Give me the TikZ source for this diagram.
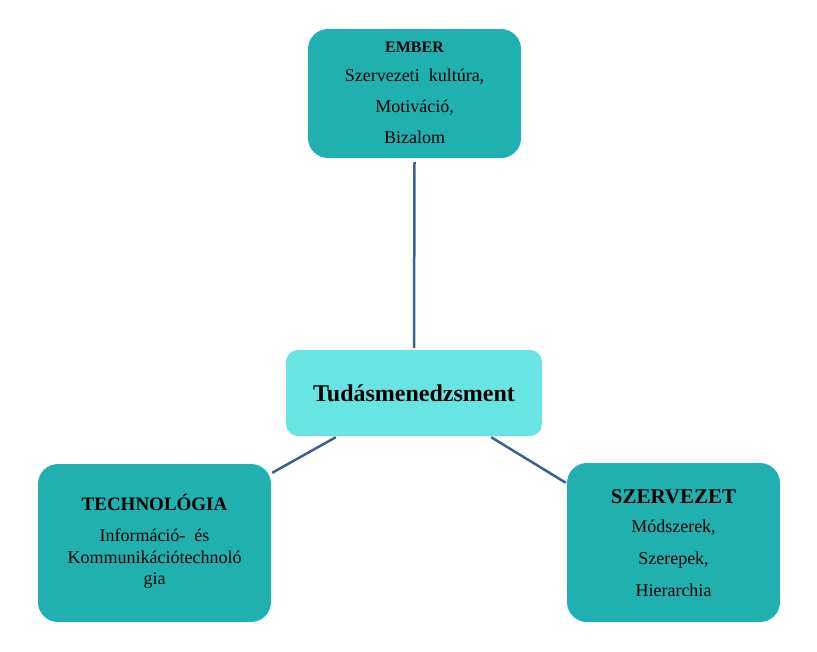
\documentclass[tikz,border=0pt]{standalone}
\usepackage{fontspec}
\setmainfont{Liberation Serif}
\usetikzlibrary{calc}
\definecolor{teal1}{HTML}{21B0B0}
\definecolor{cyan1}{HTML}{68E4E4}
\definecolor{link}{HTML}{3F5F8F}
\tikzset{
  box/.style={draw=none,fill=teal1,rounded corners=20pt,minimum width=213pt,minimum height=129pt,align=center,inner sep=0pt,text=black},
  conn/.style={draw=link,line width=2.5pt}
}
\begin{document}
\begin{tikzpicture}[x=1pt,y=-1pt]
\useasboundingbox (0,0) rectangle (817,651);
\node[box] (ember) at (414.5,93.5) {};
\node[anchor=base] (t1) at (414.5,52) {\fontsize{16}{16}\selectfont\bfseries EMBER};
\node[anchor=base] (t2) at (414.5,81) {\fontsize{18}{18}\selectfont Szervezeti\ \ kultúra,};
\node[anchor=base] (t3) at (414.5,112) {\fontsize{18}{18}\selectfont Motiváció,};
\node[anchor=base] (t4) at (414.5,143) {\fontsize{18}{18}\selectfont Bizalom};

\node[box,fill=cyan1,minimum width=256pt,minimum height=86pt,rounded corners=12pt] (center) at (414,393) {\fontsize{24}{24}\selectfont\bfseries Tudásmenedzsment};

\node[box,minimum width=233pt,minimum height=158pt] (tech) at (154.5,543) {};
\node[anchor=base] (u1) at (154.5,510) {\fontsize{19}{19}\selectfont\bfseries TECHNOLÓGIA};
\node[anchor=base] (u2) at (154.5,541) {\fontsize{18}{18}\selectfont Információ-\ \ és};
\node[anchor=base] (u3) at (154.5,563) {\fontsize{18}{18}\selectfont Kommunikációtechnoló};
\node[anchor=base] (u4) at (154.5,584) {\fontsize{18}{18}\selectfont gia};

\node[box,minimum width=213pt,minimum height=159pt] (szerv) at (673.5,542.5) {};
\node[anchor=base] (s1) at (673.5,503) {\fontsize{21}{21}\selectfont\bfseries SZERVEZET};
\node[anchor=base] (s2) at (673.5,532) {\fontsize{18}{18}\selectfont Módszerek,};
\node[anchor=base] (s3) at (673.5,564) {\fontsize{18}{18}\selectfont Szerepek,};
\node[anchor=base] (s4) at (673.5,596) {\fontsize{18}{18}\selectfont Hierarchia};

\draw[conn] ($(ember.south)+(0,4)$) -- ($(center.north)+(0,-2)$);
\draw[conn] ($(tech.north east)+(1,9)$) -- ($(center.south west)+(50,1)$);
\draw[conn] ($(center.south east)+(-51,1)$) -- ($(szerv.north west)+(-1,20)$);
\end{tikzpicture}
\end{document}
